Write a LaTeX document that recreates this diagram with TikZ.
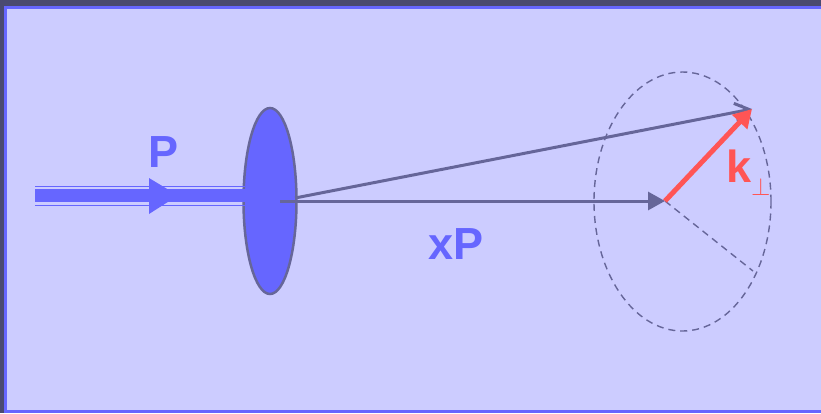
\documentclass[tikz,border=0pt]{standalone}
\usepackage{fontspec}
\setmainfont{Liberation Sans}
\usepackage{xcolor}
\definecolor{frameblue}{RGB}{102,102,255}
\definecolor{panelfill}{RGB}{204,204,255}
\definecolor{darkback}{RGB}{74,74,112}
\definecolor{slate}{RGB}{102,102,153}
\definecolor{kred}{RGB}{255,85,85}
\usepackage{tikz}
\usetikzlibrary{arrows.meta,positioning,calc,shapes.geometric}

\begin{document}
\begin{tikzpicture}[
  x=1pt, y=-1pt,
  every node/.style={font=\bfseries},
  biglabel/.style={inner sep=0pt,font=\fontsize{45}{45}\selectfont\bfseries},
  slatearrow/.style={draw=slate,line width=3pt},
  guide/.style={draw=slate,dashed,line width=1.4pt,dash pattern=on 7pt off 5pt},
]
  \useasboundingbox (0,0) rectangle (821,413);
  \clip (0,0) rectangle (821,413);
  % background and panel
  \fill[darkback] (0,0) rectangle (821,413);
  \filldraw[fill=panelfill,draw=frameblue,line width=3pt] (5.5,7.5) rectangle (835,411.5);

  % incoming beam
  \coordinate (beamstart) at (35,195.5);
  \node[draw=slate,fill=frameblue,line width=2.5pt,ellipse,minimum width=53pt,minimum height=186pt,inner sep=0pt] (disk) at (270,201) {};
  \fill[frameblue] (beamstart) ++(0,-6.5) rectangle (245,202);
  \draw[frameblue,line width=1.5pt] (35,186.5) -- (245,186.5) (35,205.5) -- (245,205.5);
  \fill[frameblue] (149,178) -- (178,195.5) -- (149,214) -- cycle;
  \node[biglabel,text=frameblue] (plabel) at (164,152) {P};

  % longitudinal and full momenta
  \coordinate (hit) at (280,201);
  \coordinate (xpend) at (665,201);
  \coordinate (tip) at (752,109);
  \draw[slatearrow,-{Triangle[length=17pt,width=18pt]}] (hit) -- (xpend);
  \draw[slatearrow,-{Straight Barb[length=14pt,width=18pt,line width=3pt]}] (295,198) -- (tip);
  \node[biglabel,text=frameblue] (xplabel) at (456,244) {xP};

  % transverse circle
  \draw[guide] (682.5,201.5) ellipse[x radius=88.5,y radius=129.5];
  \draw[guide] (xpend) -- (753,271);
  \draw[kred,line width=5pt,-{Triangle[length=18pt,width=20pt]}] (xpend) -- (tip);
  \node[biglabel,text=kred,anchor=base west] (klabel) at (726,182) {k\raisebox{-13pt}{\fontsize{26}{26}\selectfont$\perp$}};
\end{tikzpicture}
\end{document}
